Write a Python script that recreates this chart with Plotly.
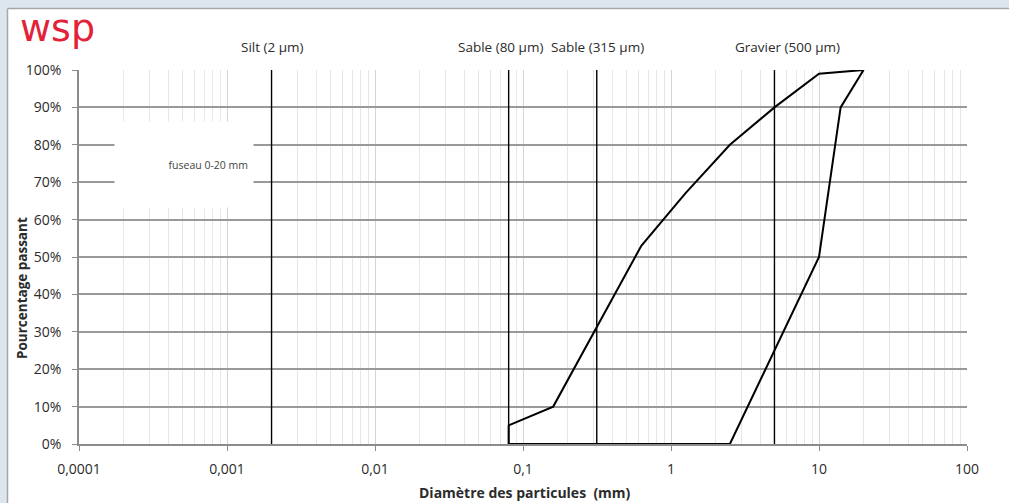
import plotly.graph_objects as go

# Granulometric envelope "fuseau 0-20 mm": particle size (mm) vs % passing
upper_size = [0.08, 0.16, 0.63, 1.25, 2.5, 5, 10, 20]
upper_pass = [5, 10, 53, 67, 80, 90, 99, 100]
lower_size = [0.08, 2.5, 10, 14, 20]
lower_pass = [0, 0, 50, 90, 100]

# Class boundaries (mm) and their captions
bound_size = [0.002, 0.08, 0.315, 5]
bound_names = ["Silt (2 µm)", "Sable (80 µm)", "Sable (315 µm)", "Gravier (500 µm)"]

x_tick_vals = [0.0001, 0.001, 0.01, 0.1, 1, 10, 100]
x_tick_text = ["0,0001", "0,001", "0,01", "0,1", "1", "10", "100"]
y_tick_vals = [0, 10, 20, 30, 40, 50, 60, 70, 80, 90, 100]
y_tick_text = [f"{v}%" for v in y_tick_vals]

W, H = 1009, 503
L, R, T, B = 79, 42, 70, 59
PW, PH = W - L - R, H - T - B


def px(xp):
    return (xp - L) / PW


def py(yp):
    return (H - B - yp) / PH


FONT = "Open Sans"
TXT = "#2b2b2b"

fig = go.Figure()

# closed envelope: upper curve then lower curve back to the start
env_x = upper_size + lower_size[::-1] + [upper_size[0]]
env_y = upper_pass + lower_pass[::-1] + [upper_pass[0]]
fig.add_trace(go.Scatter(x=env_x, y=env_y, mode="lines",
                         line=dict(color="black", width=2),
                         name="fuseau 0-20 mm", showlegend=False,
                         hoverinfo="skip"))

for s in bound_size:
    fig.add_trace(go.Scatter(x=[s, s], y=[0, 100], mode="lines",
                             line=dict(color="black", width=1.4),
                             showlegend=False, hoverinfo="skip"))

minor_vals = [k * 10.0 ** e for e in range(-4, 2) for k in range(2, 10)]

fig.update_xaxes(type="log", range=[-4, 2],
                 tickmode="array", tickvals=x_tick_vals, ticktext=x_tick_text,
                 showgrid=True, gridcolor="#d4d4d4", gridwidth=1,
                 minor=dict(tickmode="array", tickvals=minor_vals,
                            showgrid=True, gridcolor="#e6e6e6", gridwidth=1),
                 showline=True, linecolor="#8c8c8c", linewidth=1.5,
                 ticks="outside", ticklen=5, tickcolor="#8c8c8c",
                 ticklabelstandoff=6,
                 tickfont=dict(family=FONT, size=14, color=TXT),
                 zeroline=False, fixedrange=True)
fig.update_yaxes(range=[0, 100], tickmode="array",
                 tickvals=y_tick_vals, ticktext=y_tick_text,
                 showgrid=True, gridcolor="#999999", gridwidth=1.5,
                 showline=True, linecolor="#8c8c8c", linewidth=1.5,
                 ticks="outside", ticklen=5, tickcolor="#8c8c8c",
                 ticklabelstandoff=8,
                 tickfont=dict(family=FONT, size=14, color=TXT),
                 zeroline=False, fixedrange=True)

ann = []
# boundary captions above the plot
for name, cx in zip(bound_names, [272, 500, 597, 787]):
    ann.append(dict(text=name, xref="paper", yref="paper", x=px(cx), y=py(47),
                    xanchor="center", yanchor="middle", showarrow=False,
                    font=dict(family=FONT, size=13.5, color=TXT)))

# axis titles
ann.append(dict(text="<b>Pourcentage passant</b>", xref="paper", yref="paper",
                x=px(22), y=py(288), textangle=-90, showarrow=False,
                xanchor="center", yanchor="middle",
                font=dict(family=FONT, size=13.5, color=TXT)))
ann.append(dict(text="<b>Diamètre des particules  (mm)</b>", xref="paper",
                yref="paper", x=px(525), y=py(492), showarrow=False,
                xanchor="center", yanchor="middle",
                font=dict(family=FONT, size=14, color=TXT)))

# series caption on a white box
ann.append(dict(text="fuseau 0-20 mm", xref="paper", yref="paper",
                x=px(184), y=py(164.5), xanchor="center", yanchor="middle",
                width=128, height=75, borderpad=5, align="right",
                valign="middle", bgcolor="white", showarrow=False,
                font=dict(family=FONT, size=10.5, color="#444444")))

# logo
ann.append(dict(text="wsp", xref="paper", yref="paper",
                x=px(57), y=py(28), xanchor="center", yanchor="middle",
                showarrow=False,
                font=dict(family="DejaVu Sans", size=38, color="#e3223a")))

shapes = [
    dict(type="rect", xref="paper", yref="paper", x0=px(0), x1=px(7),
         y0=py(H), y1=py(0), fillcolor="#dde6ef", line=dict(width=0),
         layer="above"),
    dict(type="rect", xref="paper", yref="paper", x0=px(0), x1=px(W),
         y0=py(8), y1=py(0), fillcolor="#dde6ef", line=dict(width=0),
         layer="above"),
    dict(type="line", xref="paper", yref="paper", x0=px(7.5), x1=px(W),
         y0=py(8.5), y1=py(8.5), line=dict(color="#a6a6a6", width=1.5),
         layer="above"),
    dict(type="line", xref="paper", yref="paper", x0=px(7.5), x1=px(7.5),
         y0=py(8.5), y1=py(H), line=dict(color="#a6a6a6", width=1.5),
         layer="above"),
]

fig.update_layout(width=W, height=H, margin=dict(l=L, r=R, t=T, b=B),
                  paper_bgcolor="white", plot_bgcolor="white",
                  annotations=ann, shapes=shapes, showlegend=False)

fig.write_html("out.html", config={"displayModeBar": False})
